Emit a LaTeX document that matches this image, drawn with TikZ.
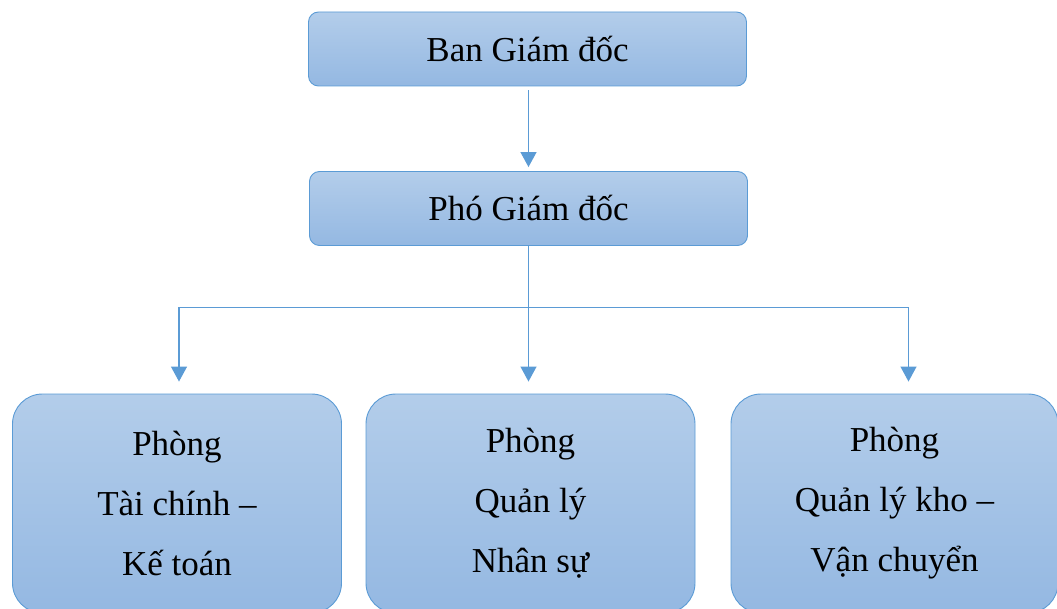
\documentclass[tikz,border=0pt]{standalone}
\usepackage{fontspec}
\setmainfont{Liberation Serif}
\usepackage{tikz}
\usetikzlibrary{positioning, shapes, arrows.meta}

\definecolor{khung}{HTML}{5B9BD5}
\definecolor{nentren}{HTML}{B3CDEA}
\definecolor{nenduoi}{HTML}{94B8E2}

\tikzset{
    hop/.style={draw=khung, line width=0.9pt, top color=nentren, bottom color=nenduoi,
        font=\fontsize{35}{60}\selectfont, align=center, inner sep=0pt},
    hoptren/.style={hop, rounded corners=10pt, minimum width=438pt, minimum height=74pt},
    hopduoi/.style={hop, rounded corners=30pt, minimum width=329pt, minimum height=219pt},
    noi/.style={draw=khung, line width=1.2pt, -{Triangle[width=16pt, length=15pt]}}
}

\begin{document}
\begin{tikzpicture}[x=1pt, y=-1pt]
        \clip (0,0) rectangle (1057,609);

        \node[hoptren] (gd) at (527.5, 49) {Ban Giám đốc};
        \node[hoptren] (pgd) at (528.5, 208.5) {Phó Giám đốc};

        \node[hopduoi] (ketoan) at (177, 503.5) {Phòng\\Tài chính –\\Kế toán};
        \node[hopduoi] (nhansu) at (530.5, 503.5) {Phòng\\Quản lý\\Nhân sự};
        \node[hopduoi, minimum width=327pt] (kho) at (894.5, 503.5) {Phòng\\Quản lý kho –\\Vận chuyển};

        \coordinate (bus) at (0, 307.5);

        \draw[noi, shorten <=4pt, shorten >=4pt] (gd.south -| pgd.south) -- (pgd.north);

        \draw[noi, shorten >=12pt] (pgd.south) -- (pgd.south |- nhansu.north);
        \draw[noi, shorten >=12pt] (pgd.south |- bus) -| ([xshift=2pt]ketoan.north);
        \draw[noi, shorten >=12pt] (pgd.south |- bus) -| ([xshift=14pt]kho.north);

    \end{tikzpicture}
\end{document}
